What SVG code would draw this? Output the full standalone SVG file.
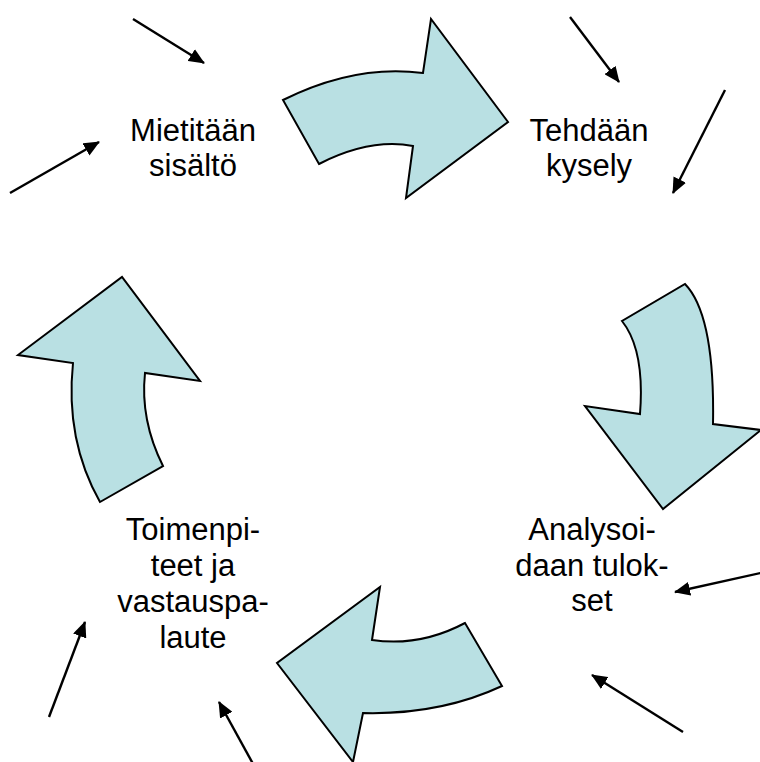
<svg xmlns="http://www.w3.org/2000/svg" width="760" height="762" viewBox="0 0 760 762">
<defs>
<style>
.big{fill:#B9E0E3;stroke:#000;stroke-width:2;stroke-linejoin:miter}
.lbl{font-family:"Liberation Sans",Arial,sans-serif;font-size:31px;fill:#000;text-anchor:middle}
.con{stroke:#000;stroke-width:2.4;fill:none;marker-end:url(#ah)}
</style>
<marker id="ah" markerUnits="userSpaceOnUse" viewBox="0 0 16 14" markerWidth="16" markerHeight="14" refX="15" refY="7" orient="auto">
<path d="M0,0 L16,7 L0,14 z" fill="#000"/>
</marker>
</defs>
<rect width="760" height="762" fill="#fff"/>
<g id="arrow-top">
<path class="big" d="M283,100 Q355,64 423,73 L431,19 L508,122 L406,198 L413,146 Q370,138 319,164 Z"/>
</g>
<g id="arrow-right">
<path class="big" d="M685,284 Q715,315 713,424 L761,430 L663,509 L585,406 L640,414 Q645,350 622,321 Z"/>
</g>
<g id="arrow-bottom">
<path class="big" d="M502,686 Q440,715 363,713 L353,762 L277,663 L380,587 L372,640 Q420,647 465,623 Z"/>
</g>
<g id="arrow-left">
<path class="big" d="M163,466 Q140,420 145,373 L200,381 L122,277 L18,355 L73,363 Q65,440 100,502 Z"/>
</g>
<g id="node-mietitaan">
<text class="lbl" x="193" y="141">Mietitään</text>
<text class="lbl" x="193" y="176">sisältö</text>
</g>
<g id="node-tehdaan">
<text class="lbl" x="589" y="141">Tehdään</text>
<text class="lbl" x="589" y="176">kysely</text>
</g>
<g id="node-analysoidaan">
<text class="lbl" x="592" y="540">Analysoi-</text>
<text class="lbl" x="592" y="575.5">daan tulok-</text>
<text class="lbl" x="592" y="611">set</text>
</g>
<g id="node-toimenpiteet">
<text class="lbl" x="193" y="540">Toimenpi-</text>
<text class="lbl" x="193" y="576">teet ja</text>
<text class="lbl" x="193" y="612">vastauspa-</text>
<text class="lbl" x="193" y="648">laute</text>
</g>
<g id="connectors">
<line class="con" x1="133" y1="19" x2="204" y2="63"/>
<line class="con" x1="10" y1="193" x2="99" y2="142"/>
<line class="con" x1="570" y1="17" x2="619" y2="82"/>
<line class="con" x1="725" y1="90" x2="673" y2="193"/>
<line class="con" x1="765" y1="572" x2="675" y2="592"/>
<line class="con" x1="683" y1="732" x2="592" y2="675"/>
<line class="con" x1="49" y1="717" x2="85" y2="622"/>
<line class="con" x1="263" y1="782" x2="219" y2="702"/>
</g>
</svg>
